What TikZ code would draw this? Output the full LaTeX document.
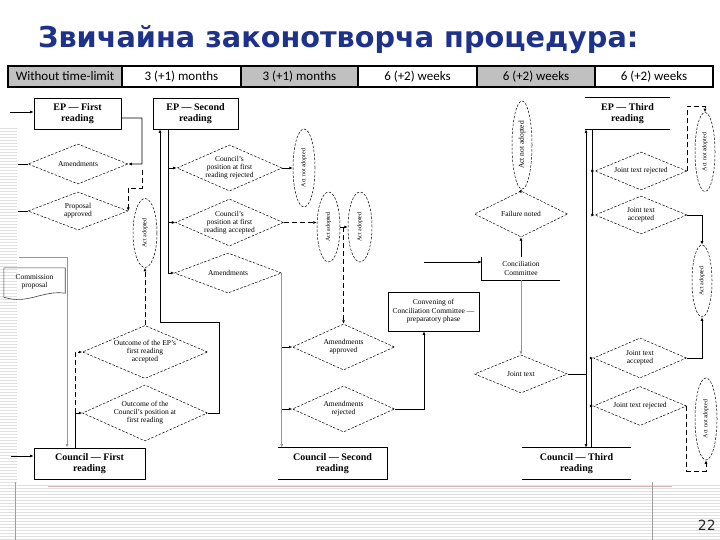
\documentclass[tikz,border=0pt]{standalone}
\usepackage{fontspec}
\usepackage{graphicx}
\setmainfont{Liberation Serif}
\newfontfamily\hdrfont{Carlito}
\newfontfamily\ttlfont{DejaVu Sans}
\usetikzlibrary{shapes.geometric,arrows.meta}
\definecolor{ttlblue}{RGB}{30,50,140}
\definecolor{hdrgray}{RGB}{192,192,192}
\definecolor{stripe}{RGB}{224,224,224}
\definecolor{lgray}{RGB}{150,150,150}
\definecolor{redline}{RGB}{215,185,185}
\tikzset{
  box/.style={draw, line width=0.8bp, inner sep=0pt, align=center, font=\fontsize{10bp}{11.5bp}\selectfont\bfseries},
  nobox/.style={box, draw=none},
  dia/.style={diamond, draw, line width=0.5bp, dash pattern=on 2.5bp off 1.5bp, inner sep=0pt, shape aspect=2.5, align=center, font=\fontsize{7.5bp}{8bp}\selectfont},
  ell/.style={ellipse, draw, line width=0.5bp, dash pattern=on 2.5bp off 1.5bp, inner sep=0pt, font=\fontsize{6bp}{7bp}\selectfont},
  hcell/.style={draw, line width=1.5bp, minimum height=21bp, inner sep=0pt, font=\hdrfont\fontsize{13bp}{15bp}\selectfont},
  arr/.style={-{Latex[length=3.5bp,width=3bp]}},
  conn/.style={line width=0.7bp, arr},
  dconn/.style={line width=0.8bp, arr, dash pattern=on 5bp off 3bp},
  gconn/.style={line width=0.7bp, draw=lgray, arr},
  plain/.style={line width=0.7bp},
  smalltxt/.style={inner sep=0pt, align=center, font=\fontsize{7.5bp}{8.5bp}\selectfont}
}
\begin{document}
\begin{tikzpicture}[x=1bp,y=-1bp]
\useasboundingbox (0,0) rectangle (720,540);
\fill[white] (0,0) rectangle (720,540);
% decorative stripes
\foreach \yy in {485,488,...,539} \draw[stripe,line width=0.6bp] (0,\yy) -- (720,\yy);
\foreach \yy in {128,131,...,482} \draw[stripe,line width=0.6bp] (0,\yy) -- (17,\yy);
\draw[redline, line width=0.7bp] (48,486) -- (672,486);
\draw[stripe!70!black, line width=0.4bp] (15,482) -- (15,540);
\draw[stripe!70!black, line width=0.4bp] (652,482) -- (652,540);

% title
\node[anchor=west, inner sep=0pt, text=ttlblue, font=\ttlfont\bfseries\fontsize{28.7bp}{32bp}\selectfont] (title) at (38,40) {Звичайна законотворча процедура:};

% header row
\node[hcell, fill=hdrgray, minimum width=114bp] (h1) at (65,76.5) {Without time-limit};
\node[hcell, minimum width=119bp] (h2) at (181.5,76.5) {3 (+1) months};
\node[hcell, fill=hdrgray, minimum width=117bp] (h3) at (299.5,76.5) {3 (+1) months};
\node[hcell, minimum width=119bp] (h4) at (417.5,76.5) {6 (+2) weeks};
\node[hcell, fill=hdrgray, minimum width=118bp] (h5) at (536,76.5) {6 (+2) weeks};
\node[hcell, minimum width=118bp] (h6) at (654,76.5) {6 (+2) weeks};

% column 1
\node[box, minimum width=87bp, minimum height=31bp] (epf) at (77.5,113.5) {EP — First\\reading};
\node[dia, minimum width=100bp, minimum height=40bp] (amd1) at (78,164) {Amendments};
\node[dia, minimum width=100bp, minimum height=38bp] (propapp) at (78,211) {Proposal\\approved};
\node[ell, minimum width=24bp, minimum height=69bp] (actad1) at (145,233) {\rotatebox{90}{Act adopted}};
\node[smalltxt, minimum width=61bp, minimum height=28bp] (commp) at (34.5,282) {Commission\\proposal};
\draw[line width=0.6bp, draw=black!75] ([yshift=-1bp]commp.south west) -- (commp.north west) -- (commp.north east) -- ([yshift=3bp]commp.south east) .. controls (42,290) and (28,305) .. ([yshift=-1bp]commp.south west);
\node[dia, minimum width=125bp, minimum height=53bp] (outep) at (145,352) {Outcome of the EP's\\first reading\\accepted};
\node[dia, minimum width=125bp, minimum height=56bp] (outco) at (145,413) {Outcome of the\\Council's position at\\first reading};
\node[box, minimum width=111bp, minimum height=31bp] (cf) at (89.5,463.5) {Council — First\\reading};

% column 2
\node[box, minimum width=85bp, minimum height=31bp] (eps) at (195.5,113.5) {EP — Second\\reading};
\node[dia, minimum width=101bp, minimum height=46bp] (crej) at (229.5,168) {Council's\\position at first\\reading rejected};
\node[dia, minimum width=101bp, minimum height=47bp] (cacc) at (229.5,222.5) {Council's\\position at first\\reading accepted};
\node[dia, minimum width=107bp, minimum height=40bp] (amd2) at (228,273) {Amendments};
\node[ell, minimum width=22bp, minimum height=78bp] (ana1) at (304,168) {\rotatebox{90}{Act not adopted}};
\node[ell, minimum width=23bp, minimum height=70bp] (aad2) at (328.5,227) {\rotatebox{90}{Act adopted}};
\node[ell, minimum width=24bp, minimum height=70bp] (aad3) at (360,227) {\rotatebox{90}{Act adopted}};
\node[dia, minimum width=102bp, minimum height=46bp] (aapp) at (343.5,347) {Amendments\\approved};
\node[dia, minimum width=102bp, minimum height=46bp] (arej) at (343.5,409) {Amendments\\rejected};
\node[nobox, minimum width=109bp, minimum height=31bp] (cs) at (332.5,463.5) {Council — Second\\reading};
\draw[line width=0.8bp] (cs.north west) -- (cs.north east) -- (cs.south east) -- (cs.south west);
\node[box, smalltxt, minimum width=91bp, minimum height=39bp] (conv) at (433.5,311.5) {Convening of\\Conciliation Committee —\\preparatory phase};

% column 3
\node[ell, minimum width=20bp, minimum height=88bp, font=\fontsize{7.5bp}{8bp}\selectfont] (ana2) at (522,145) {\rotatebox{90}{Act not adopted}};
\node[dia, minimum width=93bp, minimum height=46bp] (fail) at (521,214) {Failure noted};
\node[smalltxt, minimum width=78bp, minimum height=23bp] (cc) at (521,268.5) {Conciliation\\Committee};
\draw[line width=0.8bp] (cc.north west) -- (cc.south west) -- (cc.south east);
\node[dia, minimum width=93bp, minimum height=38bp] (jt) at (521,374) {Joint text};
\node[nobox, minimum width=109bp, minimum height=31bp] (ct) at (576.5,463.5) {Council — Third\\reading};
\draw[line width=0.8bp] (ct.north west) -- (ct.north east) (ct.south west) -- (ct.south east);

% column 4
\node[nobox, minimum width=85bp, minimum height=31bp] (ept) at (627.5,113.5) {EP — Third\\reading};
\draw[line width=0.8bp] (ept.north west) -- (ept.north east) (ept.south west) -- (ept.south east);
\node[dia, minimum width=92bp, minimum height=38bp] (jtr1) at (641,171) {Joint text rejected};
\node[dia, minimum width=92bp, minimum height=38bp] (jta1) at (641,215) {Joint text\\accepted};
\node[dia, minimum width=93bp, minimum height=40bp] (jta2) at (640,358) {Joint text\\accepted};
\node[dia, minimum width=93bp, minimum height=39bp] (jtr2) at (640,406) {Joint text rejected};
\node[ell, minimum width=20bp, minimum height=79bp] (ana3) at (705,152) {\rotatebox{90}{Act not adopted}};
\node[ell, minimum width=20bp, minimum height=72bp] (aad4) at (702,281) {\rotatebox{90}{Act adopted}};
\node[ell, minimum width=22bp, minimum height=82bp] (ana4) at (706,419) {\rotatebox{90}{Act not adopted}};

% page number
\node[anchor=east, inner sep=0pt, text=black!85, font=\ttlfont\fontsize{14bp}{16bp}\selectfont] (pg) at (716,525) {22};

% ---------- connectors ----------
% column 1
\coordinate (in1) at (10,112);
\draw[conn] (in1) -- (in1 -| epf.west);
\draw[conn] ([yshift=-4.5bp]epf.east) -- (142,118) |- (amd1.east);
\coordinate (d1) at (142,170);
\draw[dconn] (d1) -- (142,188) -| (propapp.east);
\draw[plain] (amd1.west) -- ++(-10,0);
\draw[plain] (propapp.west) -- ++(-10,0);
\draw[dconn] (outep.north) -- (actad1.south);
\coordinate (j1) at (75,413);
\draw[conn] ([xshift=-14.5bp]cf.north) |- (outco.west);
\draw[dconn] (j1) |- (outep.west);
\coordinate (c0) at (19,257);
\draw[gconn] (c0) -| ([xshift=-22.5bp]cf.north);
\coordinate (in3) at (11,456);
\draw[conn] (in3) -- (in3 -| cf.west);
\draw[conn] (outco.east) -| (219,322) -| ([xshift=-35.5bp]eps.south);

% column 2
\coordinate (v2) at ([xshift=-27.5bp]eps.south);
\draw[conn, line width=1bp] (v2) |- (amd2.west);
\draw[conn] (v2 |- crej.west) -- (crej.west);
\draw[conn] (v2 |- cacc.west) -- (cacc.west);
\draw[conn] (crej.east) -- (ana1.west);
\draw[dconn] (cacc.east) -- (cacc.east -| aad2.west);
\draw[conn] (aad2.east) -- (aad3.west);
\draw[dconn] (aapp.north |- aad2.east) -- (aapp.north);
\draw[gconn] (amd2.east) -- (amd2.east |- cs.north);
\draw[conn] (amd2.east |- aapp.west) -- (aapp.west);
\draw[conn] (amd2.east |- arej.west) -- (arej.west);
\draw[conn] (arej.east) -| ([xshift=-9.5bp]conv.south);

% column 3
\coordinate (in4) at (424,262);
\draw[conn] (in4) -- (in4 -| cc.west);
\draw[conn] (cc.north) -- (fail.south);
\draw[conn] (fail.north) -- (ana2.south);
\draw[gconn] (cc.south) -- (jt.north);
\coordinate (v5) at ([xshift=-41.5bp]ept.south);
\draw[line width=1bp, {Latex[length=3.5bp,width=3bp]}-{Latex[length=3.5bp,width=3bp]}] (v5) -- (v5 |- ct.north);
\draw[plain] (jt.east) -- (jt.east -| v5);

% column 4
\coordinate (v6) at ([xshift=-35.5bp]ept.south);
\draw[conn, line width=1bp] (v6) |- (jta1.west);
\draw[conn] (v6 |- jtr1.west) -- (jtr1.west);
\coordinate (v7) at ([xshift=14.5bp]ct.north);
\draw[conn, line width=1bp] (v7) |- (jta2.west);
\draw[conn] (v7 |- jtr2.west) -- (jtr2.west);
\coordinate (t1) at (705,106);
\draw[dconn] (jtr1.east) |- (t1) -- (ana3.north);
\draw[conn] (jta1.east) -| (aad4.north);
\draw[conn] (jta2.east) -| (aad4.south);
\coordinate (t2) at (706,471);
\draw[dconn] (jtr2.east) |- (t2) -- (ana4.south);
\end{tikzpicture}
\end{document}
